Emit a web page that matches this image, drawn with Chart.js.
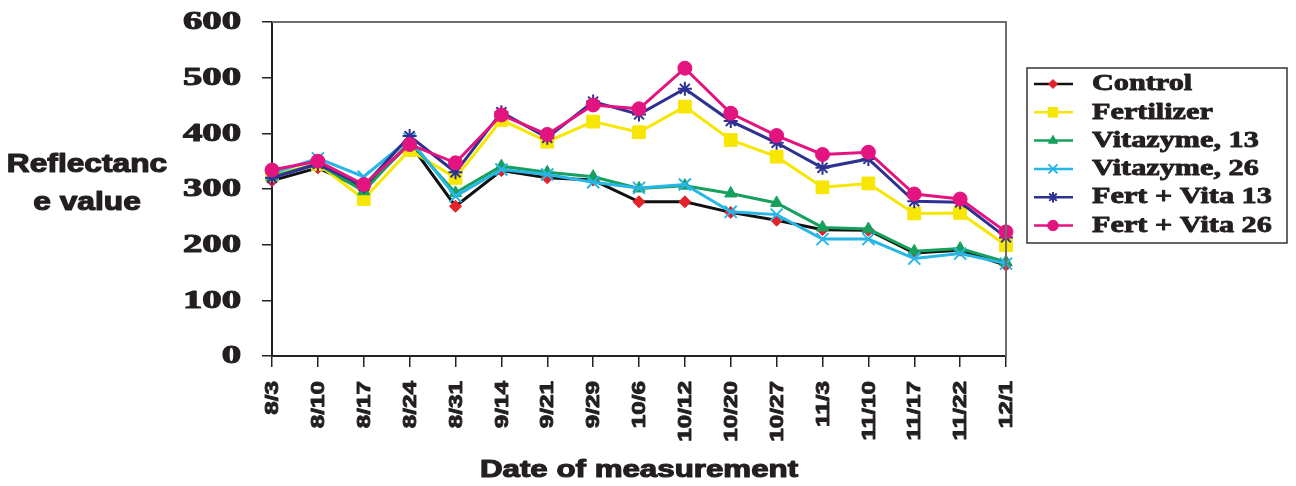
<!DOCTYPE html>
<html>
<head>
<meta charset="utf-8">
<title>Reflectance value by date of measurement</title>
<script src="https://cdn.jsdelivr.net/npm/chart.js"></script>
<style>
  html, body { margin: 0; padding: 0; background: #fff; }
  #wrap { width: 1296px; height: 486px; }
</style>
</head>
<body>
<div id="wrap"><canvas id="reflChart" width="1296" height="486"></canvas></div>
<script>
// Measurement dates and reflectance readings per treatment
const dates = ['8/3', '8/10', '8/17', '8/24', '8/31', '9/14', '9/21', '9/29', '10/6',
               '10/12', '10/20', '10/27', '11/3', '11/10', '11/17', '11/22', '12/1'];

const control    = [315, 338, 300, 382, 269, 333, 320, 316, 277, 277, 258, 244, 227, 226, 185, 190, 163];
const fertilizer = [325, 345, 282, 370, 320, 424, 385, 421, 402, 448, 388, 358, 303, 310, 256, 257, 199];
const vita13     = [322, 345, 296, 385, 293, 341, 330, 322, 301, 306, 292, 275, 231, 228, 188, 193, 169];
const vita26     = [328, 355, 322, 390, 287, 335, 326, 312, 302, 308, 259, 254, 210, 210, 175, 184, 166];
const fertVita13 = [320, 345, 305, 395, 330, 438, 392, 457, 434, 480, 422, 383, 338, 354, 278, 276, 213];
const fertVita26 = [334, 350, 308, 380, 347, 433, 398, 451, 444, 517, 436, 396, 362, 366, 291, 282, 223];

const seriesNames = ['Control', 'Fertilizer', 'Vitazyme, 13', 'Vitazyme, 26', 'Fert + Vita 13', 'Fert + Vita 26'];
const yTicks = [0, 100, 200, 300, 400, 500, 600];

// draw text stretched horizontally and thickened a little (the labels use a wide, heavy face)
function wideText(ctx, text, x, y, font, sx, align, rot, heavy) {
    ctx.save();
    ctx.translate(x, y);
    if (rot) ctx.rotate(rot);
    ctx.scale(sx, 1);
    ctx.font = font;
    ctx.textAlign = align;
    ctx.textBaseline = 'middle';
    ctx.fillStyle = '#231f20';
    ctx.fillText(text, 0, 0);
    if (heavy) {
        ctx.strokeStyle = '#231f20';
        ctx.lineWidth = heavy;
        ctx.lineJoin = 'round';
        ctx.strokeText(text, 0, 0);
    }
    ctx.restore();
}

function makeSet(idx, data, lineColor, markColor, style, radius, order) {
    return {
        label: seriesNames[idx],
        data: data,
        borderColor: lineColor,
        backgroundColor: markColor,
        borderWidth: 3,
        pointStyle: style,
        pointRadius: radius,
        pointBackgroundColor: markColor,
        pointBorderColor: markColor,
        pointBorderWidth: (style === 'crossRot' || style === 'star') ? 2 : 1,
        tension: 0,
        clip: false,
        order: order
    };
}

const datasets = [
    makeSet(0, control,    '#111111', '#e5222a', 'rectRot',  6,   6),
    makeSet(1, fertilizer, '#f7e600', '#f7e600', 'rect',     9,   5),
    makeSet(2, vita13,     '#17a05d', '#17a05d', 'triangle', 7,   4),
    makeSet(3, vita26,     '#27b6e6', '#27b6e6', 'crossRot', 8.5, 3),
    makeSet(4, fertVita13, '#2e3192', '#2e3192', 'star',     7,   2),
    makeSet(5, fertVita26, '#e3147f', '#e3147f', 'circle',   7,   1)
];

// labels, titles, frame and legend box
const decorPlugin = {
    id: 'decor',
    afterDraw(chart) {
        const ctx = chart.ctx;
        const area = chart.chartArea;
        const xs = chart.scales.x;
        const ys = chart.scales.y;

        // top and right frame
        ctx.save();
        ctx.strokeStyle = '#6d6d6d';
        ctx.lineWidth = 2;
        ctx.beginPath();
        ctx.moveTo(area.left, area.top);
        ctx.lineTo(area.right, area.top);
        ctx.lineTo(area.right, area.bottom);
        ctx.stroke();
        ctx.restore();

        // y tick labels
        yTicks.forEach(v => {
            wideText(ctx, String(v), 241, ys.getPixelForValue(v) + 1,
                'bold 25px "Liberation Serif"', 1.55, 'right', 0, 1.1);
        });

        // x tick labels, rotated
        dates.forEach((d, i) => {
            wideText(ctx, d, xs.getPixelForTick(i) + 1, 381,
                'bold 19px "Liberation Sans"', 1.28, 'right', -Math.PI / 2, 0.9);
        });

        // axis titles
        wideText(ctx, 'Reflectanc', 87, 165, 'bold 26px "Liberation Sans"', 1.22, 'center', 0, 1.2);
        wideText(ctx, 'e value', 87, 203, 'bold 26px "Liberation Sans"', 1.22, 'center', 0, 1.2);
        wideText(ctx, 'Date of measurement', 639, 471, 'bold 23px "Liberation Sans"', 1.36, 'center', 0, 1.1);

        // legend
        const lx = 1027, ly = 68, lw = 260, lh = 175;
        ctx.save();
        ctx.strokeStyle = '#333';
        ctx.lineWidth = 1.5;
        ctx.strokeRect(lx, ly, lw, lh);
        ctx.restore();

        chart.data.datasets.forEach((ds, i) => {
            const cy = 84 + i * 28.3;
            ctx.save();
            ctx.strokeStyle = ds.borderColor;
            ctx.lineWidth = 2.5;
            ctx.beginPath();
            ctx.moveTo(1034, cy);
            ctx.lineTo(1073, cy);
            ctx.stroke();
            ctx.fillStyle = ds.pointBackgroundColor;
            ctx.strokeStyle = ds.pointBorderColor;
            ctx.lineWidth = ds.pointBorderWidth;
            Chart.helpers.drawPoint(ctx, {
                pointStyle: ds.pointStyle,
                radius: ds.pointRadius * 0.75,
                rotation: 0,
                borderWidth: ds.pointBorderWidth
            }, 1053, cy);
            ctx.restore();
            wideText(ctx, ds.label, 1092, cy, 'bold 24px "Liberation Serif"', 1.26, 'left', 0, 0.9);
        });
    }
};

new Chart(document.getElementById('reflChart'), {
    type: 'line',
    data: { labels: dates, datasets: datasets },
    options: {
        responsive: false,
        animation: false,
        devicePixelRatio: 1,
        layout: { padding: { top: 22, right: 290, left: 0, bottom: 0 } },
        plugins: {
            legend: { display: false },
            tooltip: { enabled: false }
        },
        scales: {
            x: {
                type: 'category',
                offset: false,
                grid: { offset: false, drawOnChartArea: false, tickLength: 11, color: '#222', lineWidth: 1.5 },
                border: { color: '#222', width: 2 },
                ticks: { display: false },
                afterFit(scale) { scale.height = 130; }
            },
            y: {
                min: 0,
                max: 600,
                ticks: { display: false, stepSize: 100 },
                grid: { drawOnChartArea: false, tickLength: 10, color: '#222', lineWidth: 1.5 },
                border: { color: '#222', width: 2 },
                afterFit(scale) { scale.width = 272; }
            }
        }
    },
    plugins: [decorPlugin]
});
</script>
</body>
</html>
